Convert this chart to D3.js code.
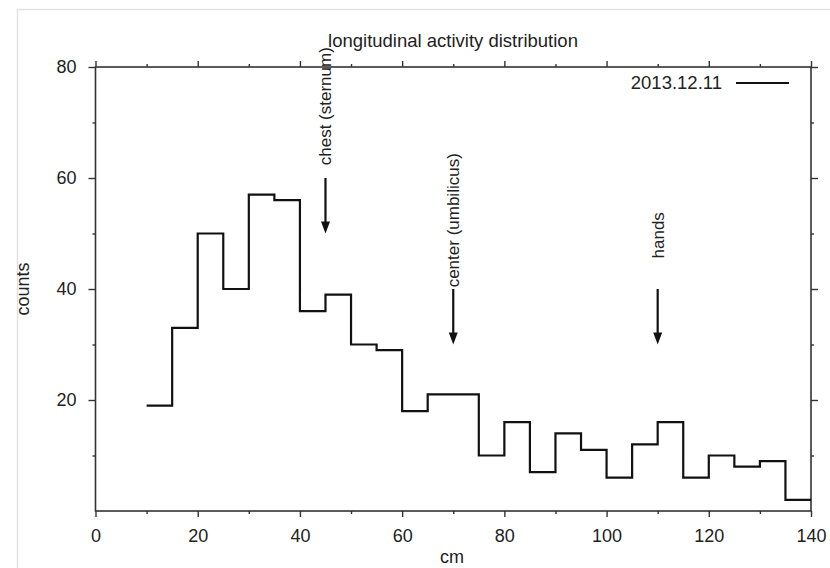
<!DOCTYPE html>
<html>
<head>
<meta charset="utf-8">
<script src="https://cdn.jsdelivr.net/npm/d3@7"></script>
<style>
  body { margin: 0; background: #fff; }
  text { font-family: "Liberation Sans", Arial, Helvetica, sans-serif; fill: #222; }
</style>
</head>
<body>
<div class="canva"></div>
<script>
// histogram bins (cm, left edge) and counts
const binStart = [10, 15, 20, 25, 30, 35, 40, 45, 50, 55, 60, 65, 70, 75, 80, 85, 90, 95, 100, 105, 110, 115, 120, 125, 130, 135];
const counts   = [19, 33, 50, 40, 57, 56, 36, 39, 30, 29, 18, 21, 21, 10, 16, 7, 14, 11, 6, 12, 16, 6, 10, 8, 9, 2];
const binWidth = 5;

const xTicks = [0, 20, 40, 60, 80, 100, 120, 140];
const xMinor = [10, 30, 50, 70, 90, 110, 130];
const yTicks = [20, 40, 60, 80];
const yMinor = [10, 30, 50, 70];

// annotations: position, text, arrow from/to (counts), label start (counts)
const annoX     = [45, 70, 110];
const annoText  = ["chest (sternum)", "center (umbilicus)", "hands"];
const annoFrom  = [60, 40, 40];
const annoTo    = [50, 30, 30];
const annoLabel = [62.3, 40.3, 45.5];

const seriesName = "2013.12.11";

const width = 830, height = 568;

const svg = d3.select(".canva").append("svg")
    .attr("width", width)
    .attr("height", height);

// light frame of the screenshot
svg.append("path")
    .attr("d", "M17.5,568 L17.5,9.5 L830,9.5")
    .attr("fill", "none")
    .attr("stroke", "#e2e2e2")
    .attr("stroke-width", 1.5);

const x = d3.scaleLinear().domain([0, 140]).range([95.5, 811]);
const y = d3.scaleLinear().domain([0, 80]).range([511, 67]);

const fontSize = 18;

function styleAxis(g) {
    g.select(".domain").remove();
    g.selectAll("line").attr("stroke", "#333").attr("stroke-width", 1.4);
    g.selectAll("text").attr("font-size", fontSize).attr("fill", "#2a2a2a");
}

// bottom
svg.append("g").attr("transform", `translate(0,${y(0)})`)
    .call(d3.axisBottom(x).tickValues(xTicks).tickSize(6).tickPadding(12).tickSizeOuter(0))
    .call(styleAxis);
svg.append("g").attr("transform", `translate(0,${y(0)})`)
    .call(d3.axisBottom(x).tickValues(xMinor).tickSize(3).tickFormat(""))
    .call(styleAxis);
// top
svg.append("g").attr("transform", `translate(0,${y(80)})`)
    .call(d3.axisTop(x).tickValues(xTicks).tickSize(6).tickFormat(""))
    .call(styleAxis);
svg.append("g").attr("transform", `translate(0,${y(80)})`)
    .call(d3.axisTop(x).tickValues(xMinor).tickSize(3).tickFormat(""))
    .call(styleAxis);
// left
svg.append("g").attr("transform", `translate(${x(0)},0)`)
    .call(d3.axisLeft(y).tickValues(yTicks).tickSize(7).tickPadding(12))
    .call(styleAxis);
svg.append("g").attr("transform", `translate(${x(0)},0)`)
    .call(d3.axisLeft(y).tickValues(yMinor).tickSize(3).tickFormat(""))
    .call(styleAxis);
// right
svg.append("g").attr("transform", `translate(${x(140)},0)`)
    .call(d3.axisRight(y).tickValues(yTicks).tickSize(7).tickFormat(""))
    .call(styleAxis);
svg.append("g").attr("transform", `translate(${x(140)},0)`)
    .call(d3.axisRight(y).tickValues(yMinor).tickSize(3).tickFormat(""))
    .call(styleAxis);

// frame
svg.append("rect")
    .attr("x", x(0)).attr("y", y(80))
    .attr("width", x(140) - x(0)).attr("height", y(0) - y(80))
    .attr("fill", "none")
    .attr("stroke", "#333")
    .attr("stroke-width", 1.6);

// step line
const pts = binStart.map((b, i) => [b, counts[i]]);
pts.push([binStart[binStart.length - 1] + binWidth, counts[counts.length - 1]]);

const line = d3.line()
    .x(d => x(d[0]))
    .y(d => y(d[1]))
    .curve(d3.curveStepAfter);

svg.append("path")
    .datum(pts)
    .attr("d", line)
    .attr("fill", "none")
    .attr("stroke", "#111")
    .attr("stroke-width", 2.2);

// arrows and labels
annoX.forEach((v, i) => {
    const ax = x(v), y0 = y(annoFrom[i]), y1 = y(annoTo[i]);
    svg.append("line")
        .attr("x1", ax).attr("x2", ax)
        .attr("y1", y0).attr("y2", y1 - 10)
        .attr("stroke", "#111").attr("stroke-width", 2.2);
    svg.append("path")
        .attr("d", `M${ax - 4.5},${y1 - 12} L${ax + 4.5},${y1 - 12} L${ax},${y1} Z`)
        .attr("fill", "#111");
    svg.append("text")
        .attr("transform", `translate(${ax + 6},${y(annoLabel[i])}) rotate(-90)`)
        .attr("font-size", 17)
        .text(annoText[i]);
});

// title
svg.append("text")
    .attr("x", 453).attr("y", 47)
    .attr("text-anchor", "middle")
    .attr("font-size", 18.5)
    .text("longitudinal activity distribution");

// legend
svg.append("text")
    .attr("x", 722).attr("y", 89)
    .attr("text-anchor", "end")
    .attr("font-size", 18.5)
    .text(seriesName);
svg.append("line")
    .attr("x1", 736).attr("x2", 789)
    .attr("y1", 83).attr("y2", 83)
    .attr("stroke", "#111").attr("stroke-width", 2.2);

// axis labels
svg.append("text")
    .attr("transform", `translate(29,289) rotate(-90)`)
    .attr("text-anchor", "middle")
    .attr("font-size", 18)
    .text("counts");
svg.append("text")
    .attr("x", 452).attr("y", 563)
    .attr("text-anchor", "middle")
    .attr("font-size", 18)
    .text("cm");
</script>
</body>
</html>
